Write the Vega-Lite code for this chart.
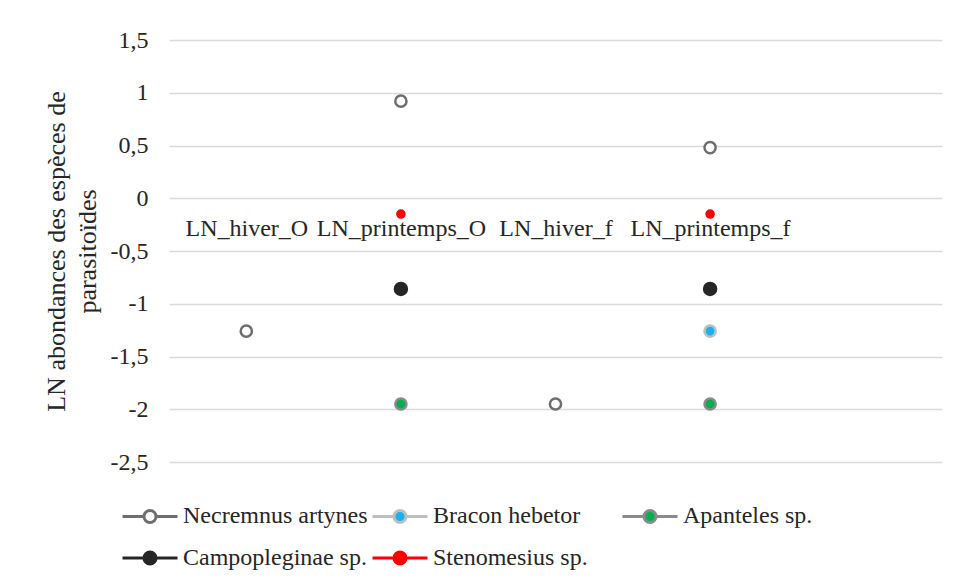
{
  "$schema": "https://vega.github.io/schema/vega-lite/v6.json",
  "width": 773,
  "height": 422,
  "autosize": {"type": "none"},
  "padding": {"left": 169, "top": 40, "right": 18, "bottom": 124},
  "background": "white",
  "config": {
    "font": "Liberation Serif",
    "view": {"stroke": null},
    "axis": {"labelFont": "Liberation Serif", "titleFont": "Liberation Serif"},
    "legend": {"labelFont": "Liberation Serif", "titleFont": "Liberation Serif"}
  },
  "data": {
    "values": [
      {"saison": "LN_hiver_O", "espece": "Necremnus artynes", "ln": -1.26},
      {"saison": "LN_printemps_O", "espece": "Necremnus artynes", "ln": 0.92},
      {"saison": "LN_hiver_f", "espece": "Necremnus artynes", "ln": -1.95},
      {"saison": "LN_printemps_f", "espece": "Necremnus artynes", "ln": 0.48},
      {"saison": "LN_printemps_f", "espece": "Bracon hebetor", "ln": -1.26},
      {"saison": "LN_printemps_O", "espece": "Apanteles sp.", "ln": -1.95},
      {"saison": "LN_printemps_f", "espece": "Apanteles sp.", "ln": -1.95},
      {"saison": "LN_printemps_O", "espece": "Campopleginae sp.", "ln": -0.86},
      {"saison": "LN_printemps_f", "espece": "Campopleginae sp.", "ln": -0.86},
      {"saison": "LN_printemps_O", "espece": "Stenomesius sp.", "ln": -0.15},
      {"saison": "LN_printemps_f", "espece": "Stenomesius sp.", "ln": -0.15}
    ]
  },
  "encoding": {
    "x": {
      "field": "saison",
      "type": "nominal",
      "sort": null,
      "scale": {"type": "point", "domain": ["LN_hiver_O", "LN_printemps_O", "LN_hiver_f", "LN_printemps_f", " "], "padding": 0.5},
      "axis": {
        "title": null,
        "orient": "bottom",
        "offset": -264,
        "domain": false,
        "ticks": false,
        "tickSize": 0,
        "grid": false,
        "labelAngle": 0,
        "labelBaseline": "alphabetic",
        "labelPadding": 37,
        "labelFont": "Liberation Serif",
        "labelFontSize": 24,
        "labelColor": "#262626",
        "labelOverlap": false,
        "labelBound": false,
        "labelLimit": 0
      }
    },
    "y": {
      "field": "ln",
      "type": "quantitative",
      "scale": {"domain": [-2.5, 1.5], "nice": false, "zero": false},
      "axis": {
        "title": ["LN abondances des espèces de", "parasitoïdes"],
        "values": [-2.5, -2, -1.5, -1, -0.5, 0, 0.5, 1, 1.5],
        "labelExpr": "replace(toString(datum.value), '.', ',')",
        "domain": false,
        "ticks": false,
        "tickSize": 0,
        "labelPadding": 21,
        "labelFont": "Liberation Serif",
        "labelFontSize": 24,
        "labelColor": "#262626",
        "gridColor": "#d9d9d9",
        "gridWidth": 1.3,
        "titleFont": "Liberation Serif",
        "titleFontSize": 26,
        "titleFontWeight": "normal",
        "titleColor": "#262626",
        "titleLineHeight": 31,
        "titlePadding": 10
      }
    },
    "fill": {
      "field": "espece",
      "type": "nominal",
      "scale": {
        "domain": ["Necremnus artynes", "Bracon hebetor", "Apanteles sp.", "Campopleginae sp.", "Stenomesius sp."],
        "range": ["#ffffff", "#1bb0ef", "#00b050", "#262626", "#ff0000"]
      },
      "legend": {
        "title": null,
        "orient": "none",
        "legendX": -48,
        "legendY": 447,
        "padding": 0,
        "direction": "horizontal",
        "columns": 3,
        "gridAlign": "all",
        "symbolType": "M-1,0H-0.22M0.22,0H1M0.22,0A0.22,0.22,0,1,1,-0.22,0A0.22,0.22,0,1,1,0.22,0Z",
        "symbolSize": 3025,
        "symbolStrokeWidth": 3,
        "symbolOpacity": 1,
        "labelFont": "Liberation Serif",
        "labelFontSize": 24,
        "labelColor": "#262626",
        "labelOffset": 4,
        "columnPadding": -2,
        "rowPadding": -1,
        "labelLimit": 0
      }
    },
    "stroke": {
      "field": "espece",
      "type": "nominal",
      "scale": {
        "domain": ["Necremnus artynes", "Bracon hebetor", "Apanteles sp.", "Campopleginae sp.", "Stenomesius sp."],
        "range": ["#6e6e6e", "#bfbfbf", "#8a8a8a", "#262626", "#ff0000"]
      },
      "legend": {
        "title": null,
        "orient": "none",
        "legendX": -48,
        "legendY": 447,
        "padding": 0,
        "direction": "horizontal",
        "columns": 3,
        "gridAlign": "all",
        "symbolType": "M-1,0H-0.22M0.22,0H1M0.22,0A0.22,0.22,0,1,1,-0.22,0A0.22,0.22,0,1,1,0.22,0Z",
        "symbolSize": 3025,
        "symbolStrokeWidth": 3,
        "symbolOpacity": 1,
        "labelFont": "Liberation Serif",
        "labelFontSize": 24,
        "labelColor": "#262626",
        "labelOffset": 4,
        "columnPadding": -2,
        "rowPadding": -1,
        "labelLimit": 0
      }
    }
  },
  "layer": [
    {
      "transform": [{"filter": "datum.espece != 'Campopleginae sp.' && datum.espece != 'Stenomesius sp.'"}],
      "mark": {"type": "point", "filled": true, "strokeWidth": 2.5, "opacity": 1, "size": 125}
    },
    {
      "transform": [{"filter": "datum.espece == 'Campopleginae sp.'"}],
      "mark": {"type": "point", "filled": true, "strokeWidth": 2, "opacity": 1, "size": 155}
    },
    {
      "transform": [{"filter": "datum.espece == 'Stenomesius sp.'"}],
      "mark": {"type": "point", "filled": true, "strokeWidth": 1.5, "opacity": 1, "size": 65}
    }
  ]
}
